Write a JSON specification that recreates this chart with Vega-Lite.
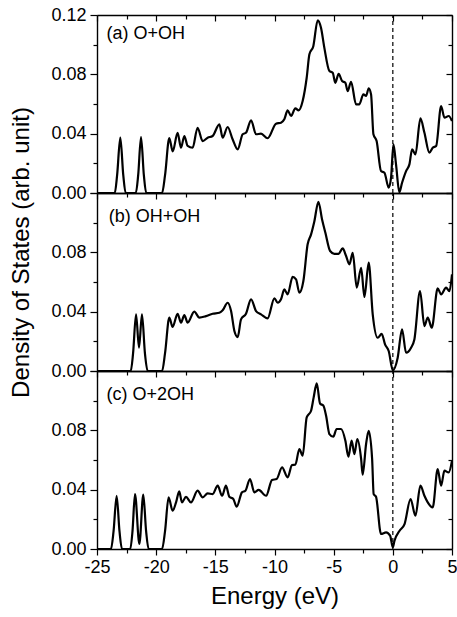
{
  "$schema": "https://vega.github.io/schema/vega-lite/v6.json",
  "padding": {"left": 8, "top": 6, "right": 2, "bottom": 5},
  "spacing": 0,
  "bounds": "flush",
  "config": {
    "font": "Liberation Sans",
    "view": {"stroke": null},
    "axis": {
      "grid": false,
      "domainColor": "black",
      "domainWidth": 1.4,
      "tickColor": "black",
      "tickWidth": 1.2,
      "labelColor": "black",
      "labelFontSize": 18,
      "titleColor": "black",
      "titleFontSize": 24,
      "titleFontWeight": "normal",
      "labelFlush": false,
      "labelOverlap": false
    }
  },
  "datasets": {
    "dos": [
      {"panel":"a","energy":-25,"dos":0},{"panel":"a","energy":-23.5,"dos":0},{"panel":"a","energy":-23.3,"dos":0.012},{"panel":"a","energy":-23.03,"dos":0.0373},{"panel":"a","energy":-22.78,"dos":0.012},{"panel":"a","energy":-22.58,"dos":0},
      {"panel":"a","energy":-21.72,"dos":0},{"panel":"a","energy":-21.52,"dos":0.012},{"panel":"a","energy":-21.28,"dos":0.0377},{"panel":"a","energy":-21.04,"dos":0.012},{"panel":"a","energy":-20.84,"dos":0},
      {"panel":"a","energy":-19.5,"dos":0},{"panel":"a","energy":-19.25,"dos":0.012},{"panel":"a","energy":-18.89,"dos":0.037},{"panel":"a","energy":-18.6,"dos":0.028},{"panel":"a","energy":-18.19,"dos":0.0406},{"panel":"a","energy":-17.9,"dos":0.0305},{"panel":"a","energy":-17.62,"dos":0.0384},{"panel":"a","energy":-17.34,"dos":0.0317},{"panel":"a","energy":-16.92,"dos":0.0305},{"panel":"a","energy":-16.5,"dos":0.044},{"panel":"a","energy":-16.07,"dos":0.035},{"panel":"a","energy":-15.65,"dos":0.0373},{"panel":"a","energy":-15.23,"dos":0.0384},{"panel":"a","energy":-14.66,"dos":0.0463},{"panel":"a","energy":-14.38,"dos":0.0373},{"panel":"a","energy":-13.96,"dos":0.0445},{"panel":"a","energy":-13.54,"dos":0.0362},{"panel":"a","energy":-13.11,"dos":0.0294},{"panel":"a","energy":-12.69,"dos":0.0396},{"panel":"a","energy":-12.41,"dos":0.0406},{"panel":"a","energy":-11.98,"dos":0.049},{"panel":"a","energy":-11.56,"dos":0.0396},{"panel":"a","energy":-11.14,"dos":0.04},{"panel":"a","energy":-10.58,"dos":0.0369},{"panel":"a","energy":-9.87,"dos":0.0467},{"panel":"a","energy":-9.45,"dos":0.0474},{"panel":"a","energy":-9.17,"dos":0.0497},{"panel":"a","energy":-8.89,"dos":0.0557},{"panel":"a","energy":-8.6,"dos":0.0519},{"panel":"a","energy":-8.24,"dos":0.0571},{"panel":"a","energy":-7.96,"dos":0.0557},{"panel":"a","energy":-7.62,"dos":0.062},{"panel":"a","energy":-7.28,"dos":0.0777},{"panel":"a","energy":-7.05,"dos":0.0935},{"panel":"a","energy":-6.72,"dos":0.099},{"panel":"a","energy":-6.35,"dos":0.1164},{"panel":"a","energy":-6.07,"dos":0.1114},{"panel":"a","energy":-5.79,"dos":0.098},{"panel":"a","energy":-5.36,"dos":0.0822},{"panel":"a","energy":-5.08,"dos":0.0811},{"panel":"a","energy":-4.86,"dos":0.0743},{"panel":"a","energy":-4.58,"dos":0.0804},{"panel":"a","energy":-4.29,"dos":0.0755},{"panel":"a","energy":-4.01,"dos":0.0743},{"panel":"a","energy":-3.82,"dos":0.0687},{"panel":"a","energy":-3.53,"dos":0.075},{"panel":"a","energy":-3.11,"dos":0.0598},{"panel":"a","energy":-2.83,"dos":0.0598},{"panel":"a","energy":-2.49,"dos":0.0665},{"panel":"a","energy":-2.26,"dos":0.0654},{"panel":"a","energy":-2.04,"dos":0.0706},{"panel":"a","energy":-1.84,"dos":0.0665},{"panel":"a","energy":-1.64,"dos":0.0396},{"panel":"a","energy":-1.37,"dos":0.035},{"panel":"a","energy":-1.0,"dos":0.0148},{"panel":"a","energy":-0.71,"dos":0.0137},{"panel":"a","energy":-0.35,"dos":0.0036},{"panel":"a","energy":-0.15,"dos":0.0103},{"panel":"a","energy":0.05,"dos":0.0328},{"panel":"a","energy":0.27,"dos":0.0193},{"panel":"a","energy":0.55,"dos":0.0005},{"panel":"a","energy":0.78,"dos":0.0069},{"panel":"a","energy":1.12,"dos":0.0148},{"panel":"a","energy":1.4,"dos":0.0193},{"panel":"a","energy":1.63,"dos":0.0295},{"panel":"a","energy":1.91,"dos":0.026},{"panel":"a","energy":2.33,"dos":0.0503},{"panel":"a","energy":2.67,"dos":0.0406},{"panel":"a","energy":3.09,"dos":0.0272},{"panel":"a","energy":3.37,"dos":0.0305},{"panel":"a","energy":3.66,"dos":0.0317},{"panel":"a","energy":4.08,"dos":0.0586},{"panel":"a","energy":4.36,"dos":0.0508},{"panel":"a","energy":4.72,"dos":0.0519},{"panel":"a","energy":5.0,"dos":0.0485},

      {"panel":"b","energy":-25,"dos":0},{"panel":"b","energy":-22.15,"dos":0},{"panel":"b","energy":-21.95,"dos":0.012},{"panel":"b","energy":-21.7,"dos":0.0382},{"panel":"b","energy":-21.45,"dos":0.0157},{"panel":"b","energy":-21.2,"dos":0.0382},{"panel":"b","energy":-20.95,"dos":0.012},{"panel":"b","energy":-20.72,"dos":0},
      {"panel":"b","energy":-19.5,"dos":0},{"panel":"b","energy":-19.25,"dos":0.012},{"panel":"b","energy":-18.89,"dos":0.036},{"panel":"b","energy":-18.61,"dos":0.0297},{"panel":"b","energy":-18.19,"dos":0.0386},{"panel":"b","energy":-17.9,"dos":0.0326},{"panel":"b","energy":-17.62,"dos":0.0377},{"panel":"b","energy":-17.34,"dos":0.0326},{"panel":"b","energy":-16.78,"dos":0.04},{"panel":"b","energy":-16.35,"dos":0.036},{"panel":"b","energy":-15.79,"dos":0.037},{"panel":"b","energy":-15.23,"dos":0.0386},{"panel":"b","energy":-14.66,"dos":0.0393},{"panel":"b","energy":-14.38,"dos":0.0409},{"panel":"b","energy":-13.96,"dos":0.046},{"panel":"b","energy":-13.67,"dos":0.0404},{"panel":"b","energy":-13.39,"dos":0.027},{"panel":"b","energy":-13.11,"dos":0.0229},{"panel":"b","energy":-12.83,"dos":0.0348},{"panel":"b","energy":-12.41,"dos":0.0386},{"panel":"b","energy":-11.98,"dos":0.0483},{"panel":"b","energy":-11.56,"dos":0.0404},{"panel":"b","energy":-11.14,"dos":0.0382},{"panel":"b","energy":-10.58,"dos":0.0355},{"panel":"b","energy":-10.01,"dos":0.049},{"panel":"b","energy":-9.73,"dos":0.046},{"panel":"b","energy":-9.45,"dos":0.0483},{"panel":"b","energy":-9.17,"dos":0.055},{"panel":"b","energy":-8.89,"dos":0.0517},{"panel":"b","energy":-8.47,"dos":0.0634},{"panel":"b","energy":-8.18,"dos":0.0618},{"panel":"b","energy":-7.9,"dos":0.0528},{"panel":"b","energy":-7.56,"dos":0.0607},{"panel":"b","energy":-7.2,"dos":0.0854},{"panel":"b","energy":-6.91,"dos":0.0921},{"panel":"b","energy":-6.63,"dos":0.101},{"panel":"b","energy":-6.29,"dos":0.1141},{"panel":"b","energy":-5.98,"dos":0.1022},{"panel":"b","energy":-5.7,"dos":0.0932},{"panel":"b","energy":-5.3,"dos":0.0809},{"panel":"b","energy":-4.94,"dos":0.079},{"panel":"b","energy":-4.58,"dos":0.079},{"panel":"b","energy":-4.24,"dos":0.0827},{"panel":"b","energy":-3.95,"dos":0.0775},{"panel":"b","energy":-3.67,"dos":0.0719},{"panel":"b","energy":-3.39,"dos":0.0797},{"panel":"b","energy":-3.05,"dos":0.0562},{"panel":"b","energy":-2.68,"dos":0.0696},{"panel":"b","energy":-2.4,"dos":0.0499},{"panel":"b","energy":-2.04,"dos":0.073},{"panel":"b","energy":-1.7,"dos":0.0382},{"panel":"b","energy":-1.28,"dos":0.0224},{"panel":"b","energy":-0.94,"dos":0.0251},{"panel":"b","energy":-0.66,"dos":0.018},{"panel":"b","energy":-0.35,"dos":0.0135},{"panel":"b","energy":0.0,"dos":0.0005},{"panel":"b","energy":0.41,"dos":0.009},{"panel":"b","energy":0.78,"dos":0.0281},{"panel":"b","energy":1.12,"dos":0.0123},{"panel":"b","energy":1.54,"dos":0.0157},{"panel":"b","energy":1.82,"dos":0.0213},{"panel":"b","energy":2.3,"dos":0.0539},{"panel":"b","energy":2.67,"dos":0.0303},{"panel":"b","energy":2.95,"dos":0.036},{"panel":"b","energy":3.29,"dos":0.0292},{"panel":"b","energy":3.79,"dos":0.0557},{"panel":"b","energy":4.08,"dos":0.0517},{"panel":"b","energy":4.5,"dos":0.0562},{"panel":"b","energy":4.78,"dos":0.0539},{"panel":"b","energy":5.0,"dos":0.0652},

      {"panel":"c","energy":-25,"dos":0},{"panel":"c","energy":-23.82,"dos":0},{"panel":"c","energy":-23.6,"dos":0.012},{"panel":"c","energy":-23.34,"dos":0.0359},{"panel":"c","energy":-23.1,"dos":0.012},{"panel":"c","energy":-22.89,"dos":0},
      {"panel":"c","energy":-22.19,"dos":0},{"panel":"c","energy":-22.0,"dos":0.012},{"panel":"c","energy":-21.79,"dos":0.037},{"panel":"c","energy":-21.42,"dos":0.0034},{"panel":"c","energy":-21.09,"dos":0.0366},{"panel":"c","energy":-20.85,"dos":0.012},{"panel":"c","energy":-20.64,"dos":0},
      {"panel":"c","energy":-19.5,"dos":0},{"panel":"c","energy":-19.25,"dos":0.012},{"panel":"c","energy":-18.95,"dos":0.0348},{"panel":"c","energy":-18.61,"dos":0.0258},{"panel":"c","energy":-18.32,"dos":0.0314},{"panel":"c","energy":-18.05,"dos":0.0388},{"panel":"c","energy":-17.82,"dos":0.0314},{"panel":"c","energy":-17.48,"dos":0.0352},{"panel":"c","energy":-17.06,"dos":0.0314},{"panel":"c","energy":-16.5,"dos":0.0393},{"panel":"c","energy":-16.07,"dos":0.0348},{"panel":"c","energy":-15.65,"dos":0.0375},{"panel":"c","energy":-15.23,"dos":0.037},{"panel":"c","energy":-14.8,"dos":0.0427},{"panel":"c","energy":-14.43,"dos":0.0359},{"panel":"c","energy":-14.1,"dos":0.0427},{"panel":"c","energy":-13.82,"dos":0.0352},{"panel":"c","energy":-13.48,"dos":0.0337},{"panel":"c","energy":-13.2,"dos":0.0285},{"panel":"c","energy":-12.75,"dos":0.0382},{"panel":"c","energy":-12.46,"dos":0.0393},{"panel":"c","energy":-12.07,"dos":0.0472},{"panel":"c","energy":-11.7,"dos":0.0382},{"panel":"c","energy":-11.34,"dos":0.0398},{"panel":"c","energy":-10.71,"dos":0.0359},{"panel":"c","energy":-10.21,"dos":0.0465},{"panel":"c","energy":-9.82,"dos":0.0472},{"panel":"c","energy":-9.36,"dos":0.055},{"panel":"c","energy":-8.89,"dos":0.0483},{"panel":"c","energy":-8.52,"dos":0.0566},{"panel":"c","energy":-8.24,"dos":0.0568},{"panel":"c","energy":-7.9,"dos":0.0674},{"panel":"c","energy":-7.62,"dos":0.0629},{"panel":"c","energy":-7.28,"dos":0.0887},{"panel":"c","energy":-6.91,"dos":0.0932},{"panel":"c","energy":-6.69,"dos":0.1022},{"panel":"c","energy":-6.43,"dos":0.1116},{"panel":"c","energy":-6.15,"dos":0.0981},{"panel":"c","energy":-5.87,"dos":0.0966},{"panel":"c","energy":-5.64,"dos":0.0898},{"panel":"c","energy":-5.36,"dos":0.0775},{"panel":"c","energy":-5.03,"dos":0.0757},{"panel":"c","energy":-4.75,"dos":0.0809},{"panel":"c","energy":-4.38,"dos":0.0809},{"panel":"c","energy":-4.01,"dos":0.073},{"panel":"c","energy":-3.76,"dos":0.0622},{"panel":"c","energy":-3.48,"dos":0.073},{"panel":"c","energy":-3.25,"dos":0.064},{"panel":"c","energy":-3.0,"dos":0.0741},{"panel":"c","energy":-2.68,"dos":0.0607},{"panel":"c","energy":-2.55,"dos":0.0501},{"panel":"c","energy":-2.26,"dos":0.0708},{"panel":"c","energy":-2.04,"dos":0.0797},{"panel":"c","energy":-1.75,"dos":0.0607},{"panel":"c","energy":-1.62,"dos":0.037},{"panel":"c","energy":-1.42,"dos":0.0352},{"panel":"c","energy":-1.0,"dos":0.0101},{"panel":"c","energy":-0.57,"dos":0.0112},{"panel":"c","energy":-0.23,"dos":0.009},{"panel":"c","energy":0.0,"dos":0.0011},{"panel":"c","energy":0.14,"dos":0.0056},{"panel":"c","energy":0.57,"dos":0.0123},{"panel":"c","energy":0.99,"dos":0.0168},{"panel":"c","energy":1.5,"dos":0.0337},{"panel":"c","energy":1.91,"dos":0.0224},{"panel":"c","energy":2.33,"dos":0.0427},{"panel":"c","energy":2.67,"dos":0.0359},{"panel":"c","energy":2.95,"dos":0.0314},{"panel":"c","energy":3.37,"dos":0.028},{"panel":"c","energy":3.79,"dos":0.0539},{"panel":"c","energy":4.08,"dos":0.0427},{"panel":"c","energy":4.36,"dos":0.0528},{"panel":"c","energy":4.72,"dos":0.0516},{"panel":"c","energy":5.0,"dos":0.0595}
    ]
  },
  "vconcat": [
    {
      "width": 355, "height": 178,
      "resolve": {"axis": {"x": "independent", "y": "independent"}},
      "layer": [
        {
          "data": {"name": "dos"},
          "transform": [{"filter": "datum.panel === 'a'"}],
          "mark": {"type": "line", "color": "black", "strokeWidth": 2.2, "interpolate": "monotone"},
          "encoding": {
            "x": {"field": "energy", "type": "quantitative", "scale": {"domain": [-25, 5], "nice": false, "zero": false},
                  "axis": {"orient": "bottom", "labels": false, "ticks": false, "title": null}},
            "y": {"field": "dos", "type": "quantitative", "scale": {"domain": [0, 0.12], "nice": false},
                  "axis": {"orient": "left", "values": [0, 0.02, 0.04, 0.06, 0.08, 0.1, 0.12],
                           "labelExpr": "abs(datum.value*25 - round(datum.value*25)) < 1e-6 ? format(datum.value, '.2f') : ''",
                           "tickSize": {"condition": {"test": "abs(datum.value*25 - round(datum.value*25)) < 1e-6", "value": 7}, "value": 4},
                           "labelPadding": 4, "title": null}}
          }
        },
        {
          "data": {"values": [{"energy": 0}]},
          "mark": {"type": "rule", "color": "black", "strokeWidth": 1.2, "strokeDash": [4, 3]},
          "encoding": {
            "x": {"field": "energy", "type": "quantitative", "scale": {"domain": [-25, 5], "nice": false, "zero": false},
                  "axis": {"orient": "top", "values": [-25, -22.5, -20, -17.5, -15, -12.5, -10, -7.5, -5, -2.5, 0, 2.5, 5], "labels": false, "title": null,
                           "tickSize": {"condition": {"test": "datum.value % 5 === 0", "value": -6}, "value": -4}}},
            "y": {"datum": 0, "type": "quantitative", "scale": {"domain": [0, 0.12], "nice": false},
                  "axis": {"orient": "right", "values": [0, 0.02, 0.04, 0.06, 0.08, 0.1, 0.12], "labels": false, "title": null,
                           "tickSize": {"condition": {"test": "abs(datum.value*25 - round(datum.value*25)) < 1e-6", "value": -6}, "value": -4}}},
            "y2": {"datum": 0.12}
          }
        },
        {
          "data": {"values": [{"label": "(a) O+OH"}]},
          "mark": {"type": "text", "align": "left", "baseline": "middle", "fontSize": 18, "color": "black"},
          "encoding": {
            "x": {"datum": -24.2, "type": "quantitative", "axis": null},
            "y": {"datum": 0.107, "type": "quantitative", "axis": null},
            "text": {"field": "label"}
          }
        }
      ]
    },
    {
      "width": 355, "height": 178,
      "resolve": {"axis": {"x": "independent", "y": "independent"}},
      "layer": [
        {
          "data": {"name": "dos"},
          "transform": [{"filter": "datum.panel === 'b'"}],
          "mark": {"type": "line", "color": "black", "strokeWidth": 2.2, "interpolate": "monotone"},
          "encoding": {
            "x": {"field": "energy", "type": "quantitative", "scale": {"domain": [-25, 5], "nice": false, "zero": false},
                  "axis": {"orient": "bottom", "labels": false, "ticks": false, "title": null}},
            "y": {"field": "dos", "type": "quantitative", "scale": {"domain": [0, 0.12], "nice": false},
                  "axis": {"orient": "left", "values": [0, 0.02, 0.04, 0.06, 0.08, 0.1, 0.12],
                           "labelExpr": "abs(datum.value*25 - round(datum.value*25)) < 1e-6 && datum.value < 0.11 ? format(datum.value, '.2f') : ''",
                           "tickSize": {"condition": {"test": "abs(datum.value*25 - round(datum.value*25)) < 1e-6", "value": 7}, "value": 4},
                           "labelPadding": 4,
                           "title": "Density of States (arb. unit)",
                           "titleAngle": -90, "titleAlign": "center", "titleBaseline": "middle",
                           "titleX": -76, "titleY": 59}}
          }
        },
        {
          "data": {"values": [{"energy": 0}]},
          "mark": {"type": "rule", "color": "black", "strokeWidth": 1.2, "strokeDash": [4, 3]},
          "encoding": {
            "x": {"field": "energy", "type": "quantitative", "scale": {"domain": [-25, 5], "nice": false, "zero": false},
                  "axis": {"orient": "top", "values": [-25, -22.5, -20, -17.5, -15, -12.5, -10, -7.5, -5, -2.5, 0, 2.5, 5], "labels": false, "title": null,
                           "tickSize": {"condition": {"test": "datum.value % 5 === 0", "value": -6}, "value": -4}}},
            "y": {"datum": 0, "type": "quantitative", "scale": {"domain": [0, 0.12], "nice": false},
                  "axis": {"orient": "right", "values": [0, 0.02, 0.04, 0.06, 0.08, 0.1, 0.12], "labels": false, "title": null,
                           "tickSize": {"condition": {"test": "abs(datum.value*25 - round(datum.value*25)) < 1e-6", "value": -6}, "value": -4}}},
            "y2": {"datum": 0.12}
          }
        },
        {
          "data": {"values": [{"label": "(b) OH+OH"}]},
          "mark": {"type": "text", "align": "left", "baseline": "middle", "fontSize": 18, "color": "black"},
          "encoding": {
            "x": {"datum": -24.0, "type": "quantitative", "axis": null},
            "y": {"datum": 0.104, "type": "quantitative", "axis": null},
            "text": {"field": "label"}
          }
        }
      ]
    },
    {
      "width": 355, "height": 178,
      "resolve": {"axis": {"x": "independent", "y": "independent"}},
      "layer": [
        {
          "data": {"name": "dos"},
          "transform": [{"filter": "datum.panel === 'c'"}],
          "mark": {"type": "line", "color": "black", "strokeWidth": 2.2, "interpolate": "monotone"},
          "encoding": {
            "x": {"field": "energy", "type": "quantitative", "scale": {"domain": [-25, 5], "nice": false, "zero": false},
                  "axis": {"orient": "bottom", "values": [-25, -22.5, -20, -17.5, -15, -12.5, -10, -7.5, -5, -2.5, 0, 2.5, 5],
                           "labelExpr": "datum.value % 5 === 0 ? '' + datum.value : ''",
                           "tickSize": {"condition": {"test": "datum.value % 5 === 0", "value": 6}, "value": 4},
                           "labelPadding": 3, "title": "Energy (eV)", "titlePadding": 8}},
            "y": {"field": "dos", "type": "quantitative", "scale": {"domain": [0, 0.12], "nice": false},
                  "axis": {"orient": "left", "values": [0, 0.02, 0.04, 0.06, 0.08, 0.1, 0.12],
                           "labelExpr": "abs(datum.value*25 - round(datum.value*25)) < 1e-6 && datum.value < 0.11 ? format(datum.value, '.2f') : ''",
                           "tickSize": {"condition": {"test": "abs(datum.value*25 - round(datum.value*25)) < 1e-6", "value": 7}, "value": 4},
                           "labelPadding": 4, "title": null}}
          }
        },
        {
          "data": {"values": [{"energy": 0}]},
          "mark": {"type": "rule", "color": "black", "strokeWidth": 1.2, "strokeDash": [4, 3]},
          "encoding": {
            "x": {"field": "energy", "type": "quantitative", "scale": {"domain": [-25, 5], "nice": false, "zero": false},
                  "axis": {"orient": "top", "values": [-25, -22.5, -20, -17.5, -15, -12.5, -10, -7.5, -5, -2.5, 0, 2.5, 5], "labels": false, "title": null,
                           "tickSize": {"condition": {"test": "datum.value % 5 === 0", "value": -6}, "value": -4}}},
            "y": {"datum": 0, "type": "quantitative", "scale": {"domain": [0, 0.12], "nice": false},
                  "axis": {"orient": "right", "values": [0, 0.02, 0.04, 0.06, 0.08, 0.1, 0.12], "labels": false, "title": null,
                           "tickSize": {"condition": {"test": "abs(datum.value*25 - round(datum.value*25)) < 1e-6", "value": -6}, "value": -4}}},
            "y2": {"datum": 0.12}
          }
        },
        {
          "data": {"values": [{"label": "(c) O+2OH"}]},
          "mark": {"type": "text", "align": "left", "baseline": "middle", "fontSize": 18, "color": "black"},
          "encoding": {
            "x": {"datum": -24.2, "type": "quantitative", "axis": null},
            "y": {"datum": 0.104, "type": "quantitative", "axis": null},
            "text": {"field": "label"}
          }
        }
      ]
    }
  ]
}
